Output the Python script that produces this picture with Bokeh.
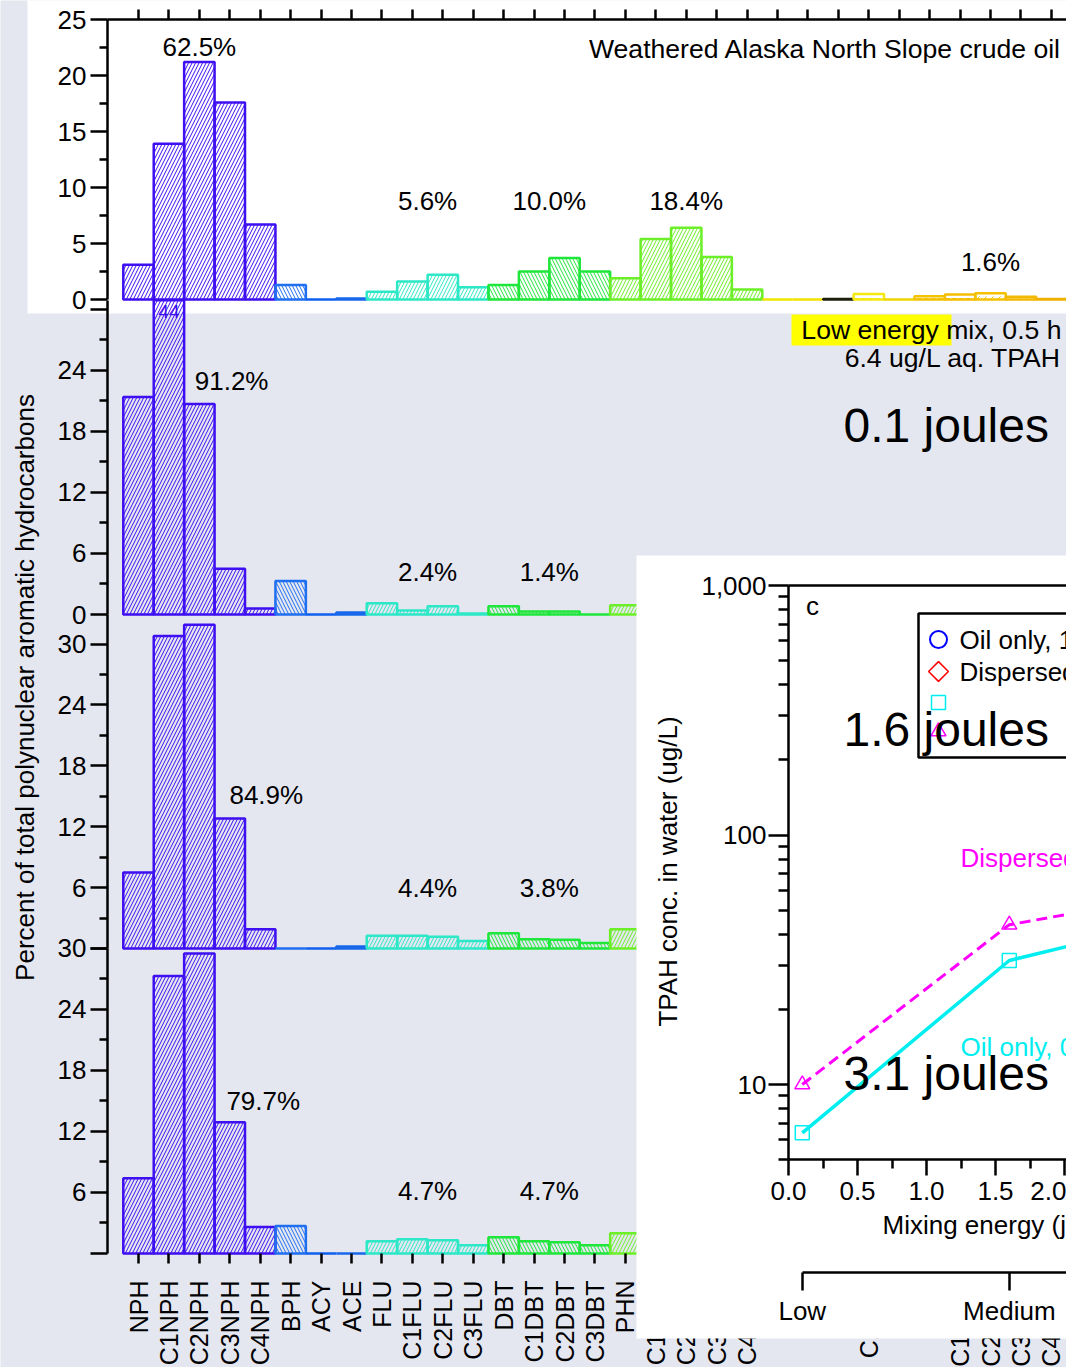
import math

from bokeh.core.properties import value
from bokeh.embed import file_html
from bokeh.models import (ColumnDataSource, FixedTicker, LinearAxis, LogScale,
                          NumeralTickFormatter, Range1d)
from bokeh.plotting import figure
from bokeh.resources import INLINE

# ---------------------------------------------------------------- data
analytes = ["NPH", "C1NPH", "C2NPH", "C3NPH", "C4NPH", "BPH", "ACY", "ACE",
            "FLU", "C1FLU", "C2FLU", "C3FLU", "DBT", "C1DBT", "C2DBT", "C3DBT",
            "PHN", "C1PHN", "C2PHN", "C3PHN", "C4PHN", "ANT", "FLA", "PYR",
            "C1FLA", "BAA", "CHR", "C1CHR", "C2CHR", "C3CHR", "C4CHR"]

# percent of total PAH, per analyte
weathered_oil = [3.1, 13.9, 21.2, 17.6, 6.7, 1.3, 0.0, 0.1,
                 0.7, 1.6, 2.2, 1.1, 1.3, 2.5, 3.7, 2.5,
                 1.9, 5.4, 6.4, 3.8, 0.9, 0.0, 0.0, 0.05,
                 0.5, 0.0, 0.3, 0.45, 0.55, 0.25, 0.05]
low_mix = [21.4, 44.0, 20.7, 4.5, 0.6, 3.3, 0.0, 0.2,
           1.1, 0.4, 0.8, 0.1, 0.8, 0.3, 0.3, 0.0, 0.9]
medium_mix = [7.5, 30.8, 31.9, 12.8, 1.9, 0.0, 0.0, 0.2,
              1.25, 1.25, 1.15, 0.75, 1.5, 0.9, 0.85, 0.55, 1.9]
high_mix = [7.4, 27.3, 29.5, 12.9, 2.6, 2.7, 0.0, 0.0,
            1.2, 1.4, 1.3, 0.8, 1.6, 1.2, 1.1, 0.8, 2.0]

# homologue-group totals
weathered_groups = ["62.5%", "5.6%", "10.0%", "18.4%", "1.6%"]
low_groups = ["91.2%", "2.4%", "1.4%"]
medium_groups = ["84.9%", "4.4%", "3.8%"]
high_groups = ["79.7%", "4.7%", "4.7%"]

# TPAH in water against mixing energy
mixing_energy = [0.1, 1.6, 3.1]
energy_levels = ["Low", "Medium", "High"]
tpah_oil_only = [6.4, 31.4, 50.0]
tpah_dispersed = [10.0, 43.7, 61.5]
legend_labels = ["Oil only, 18 h", "Dispersed, 18 h"]
curve_labels = ["Dispersed, 0.5 h", "Oil only, 0.5 h"]

# ---------------------------------------------------------------- styling
W, H = 1066, 1367
BG = "#e4e7f0"
FONT = "Liberation Sans"

analyte_colors = (["#3d0ff2"] * 5 + ["#1f6ff0", "#0f60ee", "#1868ec"] +
                  ["#2de8c6"] * 4 + ["#1fe63a"] * 4 + ["#6cef28"] * 5 +
                  ["#efe600", "#f2e200", "#1e1e0c", "#f5e80e", "#efd400"] +
                  ["#f2c200", "#f4bd00", "#f4c000", "#f3b800", "#f0b000"])
analyte_hatch = (["/"] * 5 + ["\\", "/", "/"] + ["/"] * 4 + ["\\"] * 4 +
                 ["/"] * 5 + [" ", " ", " ", '"', " "] +
                 ['"', '"', ",", ",", " "])

# category spacing on the page
CAT_X0, CAT_DX = 138.0, 30.43
# (range name, baseline row, px per percent, top of panel in percent)
panels = [("weathered", 299.0, 11.2, 25.0),
          ("low", 614.0, 10.167, 30.9),
          ("medium", 948.0, 10.15, 32.9),
          ("high", 1253.0, 10.167, 30.0)]
panel_values = [weathered_oil, low_mix, medium_mix, high_mix]

# inset scales
INSET_X0, PX_PER_J = 788.0, 138.0
Y1000, DECADE = 585.0, 249.5
INSET_YMIN, INSET_YMAX = 5, 1000


def to_cat(px):
    return (px - CAT_X0) / CAT_DX


p = figure(width=W, height=H, x_range=Range1d(0, W), y_range=Range1d(H, 0),
           x_axis_location=None, y_axis_location=None, toolbar_location=None,
           output_backend="svg", min_border=0, background_fill_color=BG,
           border_fill_color=BG, outline_line_color=None)
p.grid.visible = False

p.extra_x_ranges = {
    "cat": Range1d(to_cat(0), to_cat(W)),
    "ix": Range1d(-INSET_X0 / PX_PER_J, (W - INSET_X0) / PX_PER_J),
}
yr = {name: Range1d((base - H) / s, base / s) for name, base, s, _ in panels}
yr["iy"] = Range1d(10 ** (3 - (H - Y1000) / DECADE), 10 ** (3 + Y1000 / DECADE))
p.extra_y_ranges = yr
p.extra_y_scales = {"iy": LogScale()}


def style_axis(ax, tick_out=17, minor_out=8, standoff=4):
    ax.axis_line_width = 2.5
    ax.axis_line_color = "black"
    ax.major_tick_line_width = 2.5
    ax.minor_tick_line_width = 2.5
    ax.major_tick_in = 0
    ax.major_tick_out = tick_out
    ax.minor_tick_in = 0
    ax.minor_tick_out = minor_out
    ax.major_label_standoff = standoff
    ax.major_label_text_font = FONT
    ax.major_label_text_font_size = "26px"
    ax.major_label_text_color = "black"
    return ax


def text(xs, ys, texts, size="26px", color="black", align="center",
         xr="default", yr_name="default", level="glyph", angle=0.0):
    p.text(x=xs, y=ys, text=texts, x_range_name=xr, y_range_name=yr_name,
           text_font=value(FONT), text_font_size=size, text_color=color,
           text_align=align, text_baseline="middle", angle=angle, level=level)


# white card behind the weathered-oil panel
p.quad(left=[27], right=[W + 5], top=[-5], bottom=[313], fill_color="white",
       line_color=None, level="underlay")

# ---------------------------------------------------------------- bars
for (name, base, s, top), vals in zip(panels, panel_values):
    n = len(vals)
    src = ColumnDataSource(dict(
        left=[i - 0.5 for i in range(n)],
        right=[i + 0.5 for i in range(n)],
        bottom=[0.0] * n,
        top=[min(v, top) for v in vals],
        color=analyte_colors[:n],
        hatch=analyte_hatch[:n],
    ))
    p.quad(left="left", right="right", bottom="bottom", top="top", source=src,
           x_range_name="cat", y_range_name=name, fill_color=None,
           line_color="color", line_width=2.5, hatch_pattern="hatch",
           hatch_color="color", hatch_scale=7, hatch_weight=1)
    # bars taller than the panel carry their value
    over = [i for i, v in enumerate(vals) if v > top]
    if over:
        text([float(i) for i in over], [top - 1.1] * len(over),
             [f"{vals[i]:.0f}" for i in over], size="19px",
             color=analyte_colors[over[0]], xr="cat", yr_name=name)

# group totals
text([2, 9.5, 13.5, 18, 28], [46, 200, 200, 200, 261], weathered_groups, xr="cat")
text([3.06, 9.5, 13.5], [380, 571, 571], low_groups, xr="cat")
text([4.2, 9.5, 13.5], [794, 887, 887], medium_groups, xr="cat")
text([4.1, 9.5, 13.5], [1100, 1190, 1190], high_groups, xr="cat")

# annotations of the bar panels
p.quad(left=[791], right=[951], top=[314], bottom=[345], fill_color="#ffff00",
       line_color=None)
text([1061], [48], ["Weathered Alaska North Slope crude oil"], size="26.6px",
     align="right")
text([1061, 1061], [329, 357],
     [f"{energy_levels[0]} energy mix, 0.5 h",
      f"{tpah_oil_only[0]} ug/L aq. TPAH"], size="26.6px", align="right")
text([24], [687], ["Percent of total polynuclear aromatic hydrocarbons"],
     angle=math.pi / 2)

# ---------------------------------------------------------------- bar axes
major_ticks = {"weathered": [0, 5, 10, 15, 20, 25],
               "low": [0, 6, 12, 18, 24, 30],
               "medium": [0, 6, 12, 18, 24, 30],
               "high": [0, 6, 12, 18, 24, 30]}
minor_ticks = {"weathered": [2.5, 7.5, 12.5, 17.5, 22.5],
               "low": [3, 9, 15, 21, 27],
               "medium": [3, 9, 15, 21, 27],
               "high": [3, 9, 15, 21, 27]}
hidden = {"weathered": [], "low": [30], "medium": [0], "high": [0]}
for name, base, s, top in panels:
    ax = LinearAxis(y_range_name=name, fixed_location=107, bounds=(0, top),
                    ticker=FixedTicker(ticks=major_ticks[name],
                                       minor_ticks=minor_ticks[name]),
                    major_label_overrides={h: "" for h in hidden[name]})
    p.add_layout(style_axis(ax), "left")

idx = list(range(len(analytes)))
top_ax = LinearAxis(x_range_name="cat", y_range_name="weathered",
                    fixed_location=25, bounds=(to_cat(107), len(analytes) + 5),
                    ticker=FixedTicker(ticks=idx))
style_axis(top_ax, tick_out=10, minor_out=0)
top_ax.major_label_text_color = None
p.add_layout(top_ax, "above")

cat_ax = LinearAxis(x_range_name="cat", y_range_name="high", fixed_location=0,
                    ticker=FixedTicker(ticks=idx),
                    major_label_overrides={i: a for i, a in enumerate(analytes)},
                    major_label_orientation=math.pi / 2)
style_axis(cat_ax, tick_out=10, minor_out=0, standoff=17)
cat_ax.major_label_text_font_size = "25px"
cat_ax.axis_line_color = None
p.add_layout(cat_ax, "below")

# ---------------------------------------------------------------- inset
p.quad(left=[636], right=[W + 5], top=[555], bottom=[1338], fill_color="white",
       line_color=None, level="annotation")

src = ColumnDataSource(dict(e=mixing_energy, oil=tpah_oil_only,
                            disp=tpah_dispersed))
p.line("e", "disp", source=src, x_range_name="ix", y_range_name="iy",
       line_color="#ff00ff", line_width=3, line_dash="11 6", level="overlay")
p.scatter("e", "disp", source=src, x_range_name="ix", y_range_name="iy",
          marker="triangle", size=15, fill_color=None, line_color="#ff00ff",
          line_width=1.5, level="overlay")
p.line("e", "oil", source=src, x_range_name="ix", y_range_name="iy",
       line_color="#00eef0", line_width=3.5, level="overlay")
p.scatter("e", "oil", source=src, x_range_name="ix", y_range_name="iy",
          marker="square", size=14, fill_color=None, line_color="#00eef0",
          line_width=1.5, level="overlay")

text([812], [605], ["c"], level="overlay")
text([960, 960], [857, 1046], curve_labels, color=["#ff00ff", "#00eef0"],
     align="left", level="overlay")
text([882], [1224], ["Mixing energy (joules)"], align="left", level="overlay")
text([667], [871], ["TPAH conc. in water (ug/L)"], angle=math.pi / 2,
     level="overlay")

# legend box
p.quad(left=[918], right=[W + 20], top=[613], bottom=[757], fill_color="white",
       line_color="black", line_width=2.5, level="overlay")
p.scatter([938], [639], marker="circle", size=17, fill_color=None,
          line_color="#0000ff", line_width=2, level="overlay")
p.scatter([938], [671], marker="square", angle=math.pi / 4, size=14,
          fill_color=None, line_color="#ff0000", line_width=1.5, level="overlay")
p.scatter([938], [702], marker="square", size=14, fill_color=None,
          line_color="#00eef0", line_width=1.5, level="overlay")
p.scatter([938], [731], marker="triangle", size=15, fill_color=None,
          line_color="#ff00ff", line_width=1.5, level="overlay")
text([959, 959], [639, 671], legend_labels, align="left", level="overlay")

# inset axes
iy_minor = [m * 10 ** k for k in range(0, 3) for m in range(2, 10)
            if INSET_YMIN <= m * 10 ** k <= INSET_YMAX]
iy_ax = LinearAxis(x_range_name="ix", y_range_name="iy", fixed_location=0,
                   bounds=(INSET_YMIN, INSET_YMAX),
                   ticker=FixedTicker(ticks=[10, 100, 1000], minor_ticks=iy_minor),
                   formatter=NumeralTickFormatter(format="0,0"), level="overlay")
style_axis(iy_ax, tick_out=20, minor_out=10, standoff=2)
p.add_layout(iy_ax, "left")

ix_ax = LinearAxis(x_range_name="ix", y_range_name="iy", fixed_location=INSET_YMIN,
                   bounds=(0, 10),
                   ticker=FixedTicker(ticks=[0, 0.5, 1.0, 1.5, 2.0, 2.5, 3.0],
                                      minor_ticks=[0.25, 0.75, 1.25, 1.75, 2.25,
                                                   2.75, 3.25]),
                   formatter=NumeralTickFormatter(format="0.0"), level="overlay")
style_axis(ix_ax, tick_out=16, minor_out=9, standoff=6)
p.add_layout(ix_ax, "below")

frame_top = LinearAxis(x_range_name="ix", y_range_name="iy",
                       fixed_location=INSET_YMAX, bounds=(0, 10),
                       ticker=FixedTicker(ticks=[]), level="overlay")
style_axis(frame_top, tick_out=0, minor_out=0)
frame_top.major_label_text_color = None
p.add_layout(frame_top, "above")

lvl_ax = LinearAxis(x_range_name="ix", fixed_location=1272,
                    bounds=(mixing_energy[0], mixing_energy[-1]),
                    ticker=FixedTicker(ticks=mixing_energy),
                    major_label_overrides=dict(zip(mixing_energy, energy_levels)),
                    level="overlay")
style_axis(lvl_ax, tick_out=18, minor_out=0, standoff=5)
p.add_layout(lvl_ax, "below")

# energy captions on top of everything
text([843] * 3, [425, 729, 1073], [f"{e} joules" for e in mixing_energy],
     size="48px", align="left", level="overlay")

open("out.html", "w").write(file_html(p, INLINE))
